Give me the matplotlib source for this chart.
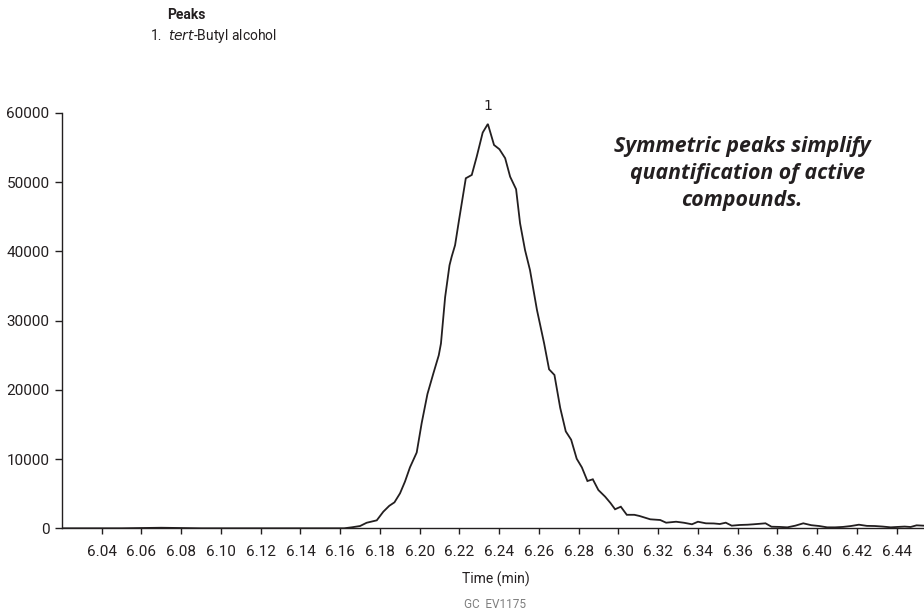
import matplotlib
matplotlib.use("Agg")
import matplotlib.pyplot as plt

# Retention time (min) and detector response
time_min = [6.0200, 6.0300, 6.0500, 6.0700, 6.0900, 6.1200, 6.1500, 6.1620, 6.1660,
            6.1700, 6.1733, 6.1784, 6.1817, 6.1847, 6.1873, 6.1901, 6.1926, 6.1951,
            6.1985, 6.2010, 6.2039, 6.2068, 6.2096, 6.2107, 6.2128, 6.2150, 6.2161,
            6.2178, 6.2198, 6.2232, 6.2262, 6.2287, 6.2317, 6.2343, 6.2374, 6.2401,
            6.2430, 6.2455, 6.2485, 6.2505, 6.2530, 6.2555, 6.2590, 6.2626, 6.2651,
            6.2678, 6.2707, 6.2735, 6.2762, 6.2790, 6.2816, 6.2844, 6.2871, 6.2899,
            6.2933, 6.2960, 6.2983, 6.3012, 6.3042, 6.3080, 6.3106, 6.3160, 6.3210,
            6.3240, 6.3290, 6.3330, 6.3370, 6.3400, 6.3440, 6.3480, 6.3510, 6.3540,
            6.3570, 6.3610, 6.3650, 6.3680, 6.3710, 6.3740, 6.3770, 6.3810, 6.3850,
            6.3890, 6.3930, 6.3970, 6.4010, 6.4050, 6.4090, 6.4130, 6.4170, 6.4210,
            6.4250, 6.4290, 6.4330, 6.4370, 6.4400, 6.4440, 6.4470, 6.4500, 6.4570]
response = [0, 0, 0, 80, 0, 0, 0, 0, 150,
            330, 800, 1150, 2400, 3250, 3750, 5050, 6750, 8800,
            10950, 15200, 19400, 22300, 25000, 26700, 33400, 38000, 39250,
            40900, 44550, 50570, 51050, 53700, 57170, 58420, 55380, 54770,
            53470, 50800, 48990, 44070, 40200, 37300, 31550, 26730, 22970,
            22150, 17400, 14000, 12800, 10050, 8800, 6830, 7080, 5530,
            4570, 3650, 2750, 3120, 1950, 1950, 1780, 1300, 1200,
            810, 950, 800, 580, 950, 720, 700, 620, 810,
            380, 480, 520, 580, 650, 720, 230, 200, 140,
            380, 720, 450, 330, 140, 140, 200, 330, 520,
            350, 330, 250, 140, 190, 250, 190, 430, 330]

x_ticks = [6.04, 6.06, 6.08, 6.10, 6.12, 6.14, 6.16, 6.18, 6.20, 6.22,
           6.24, 6.26, 6.28, 6.30, 6.32, 6.34, 6.36, 6.38, 6.40, 6.42, 6.44]
y_ticks = [0, 10000, 20000, 30000, 40000, 50000, 60000]

peak_label = "1"
peak_time = 6.2343
peak_height = 58420

ink = "#231f20"
W, H = 924, 612
fig = plt.figure(figsize=(W / 100, H / 100), dpi=100)
ax = fig.add_axes([62 / W, (H - 528.3) / H, (930 - 62) / W, (528.3 - 113) / H])

ax.plot(time_min, response, color=ink, lw=1.3, solid_joinstyle="miter")
ax.set_xlim(6.02003, 6.45676)
ax.set_ylim(0, 60000)
ax.set_xticks(x_ticks)
ax.set_xticklabels([f"{t:.2f}" for t in x_ticks])
ax.set_yticks(y_ticks)
ax.set_yticklabels([str(v) for v in y_ticks])

for side in ("top", "right"):
    ax.spines[side].set_visible(False)
for side in ("left", "bottom"):
    ax.spines[side].set_color(ink)
    ax.spines[side].set_linewidth(1.0)

ax.tick_params(axis="x", direction="out", length=4, width=1, color=ink,
               labelsize=11, labelcolor=ink, pad=8)
ax.tick_params(axis="y", direction="out", length=5, width=1, color=ink,
               labelsize=11, labelcolor=ink, pad=4)
for lab in ax.get_xticklabels() + ax.get_yticklabels():
    lab.set_family("Roboto")

ax.set_xlabel("Time (min)", family="Roboto", fontsize=10, color=ink, labelpad=9)

ax.annotate(peak_label, xy=(peak_time, peak_height), xytext=(0, 8),
            textcoords="offset points", ha="center", va="bottom",
            family="DejaVu Sans", fontsize=10, color=ink)

fig.text(742 / W, 1 - 136 / H,
         "Symmetric peaks simplify\n  quantification of active\ncompounds.",
         ha="center", va="top", family="Open Sans", fontsize=15.3,
         fontweight="bold", style="italic", color=ink, linespacing=1.38)

fig.text(167 / W, 1 - 15 / H, "Peaks", ha="left", va="center",
         family="Roboto", fontweight="bold", fontsize=10, color=ink)
fig.text(151 / W, 1 - 36 / H, "1.", ha="left", va="center",
         family="Roboto", fontsize=10, color=ink)
fig.text(168 / W, 1 - 36 / H, "$\\it{tert}$-Butyl alcohol", ha="left", va="center",
         family="Roboto", fontsize=10, color=ink)

fig.text(495 / W, 1 - 605 / H, "GC  EV1175", ha="center", va="center",
         family="Roboto", fontsize=8.5, color="#7f7f7f")

fig.savefig("out.png", dpi=100)
